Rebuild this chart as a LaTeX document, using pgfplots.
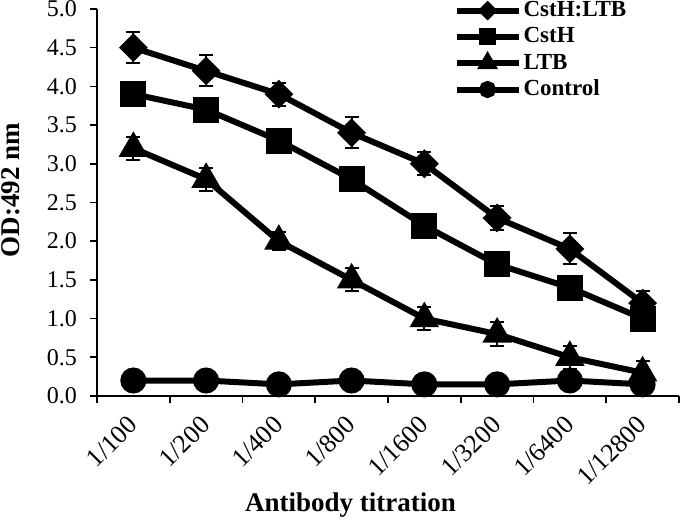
\documentclass[border=0pt]{standalone}
\usepackage{fontspec}
\setmainfont{Liberation Serif}
\usepackage{pgfplots}
\pgfplotsset{compat=1.18}

\begin{document}
\begin{tikzpicture}
  \begin{axis}[
      width=291pt, height=193.5pt, scale only axis,
      xmin=-0.5, xmax=7.5, ymin=0, ymax=5,
      axis lines*=left,
      axis line style={line width=0.8pt},
      tick align=outside,
      major tick length=3.5pt,
      minor tick length=3.5pt,
      tick style={black, line width=0.8pt},
      ytick={0,0.5,...,5},
      xtick={0,...,7},
      xticklabels={1/100,1/200,1/400,1/800,1/1600,1/3200,1/6400,1/12800},
      minor xtick={-0.5,0.5,...,7.5},
      major x tick style={draw=none},
      minor x tick style={black, line width=0.8pt},
      xticklabel style={xshift=-0.2pt, yshift=-8.7pt, rotate=45, anchor=east, inner sep=0pt,
        font=\fontsize{13}{15}\selectfont},
      yticklabel style={xshift=-3pt, font=\fontsize{12}{14}\selectfont},
      /pgf/number format/assume math mode=true,
      yticklabel={\pgfmathprintnumber[fixed,fixed zerofill,precision=1]{\tick}},
      xlabel={Antibody titration},
      ylabel={OD:492 nm},
      label style={font=\bfseries\fontsize{13.5}{16}\selectfont},
      xlabel style={at={(axis description cs:0.4356,0)}, anchor=center, yshift=-54.5pt},
      ylabel style={at={(axis description cs:-0.1477,0.532)}, anchor=center},
      legend style={draw=none, fill=none, at={(0.612,1.0255)}, anchor=north west,
        font=\bfseries\fontsize{11.5}{13}\selectfont, row sep=2pt, inner sep=0pt,
        nodes={inner sep=1pt}},
      legend cell align=left,
      legend image code/.code={\draw[mark repeat=2,mark phase=2,#1,/tikz/every mark/.append style={scale=0.55}]
        plot coordinates {(0pt,0pt) (15.5pt,0pt) (31pt,0pt)};},
      every axis plot/.append style={black, line width=3pt},
      error bars/y dir=both, error bars/y explicit,
      error bars/error bar style={line width=1pt},
      error bars/error mark options={rotate=90, mark size=3.5pt, line width=1pt},
    ]

    % CstH:LTB
    \addplot[mark=square*, mark size=3.6pt, mark options={rotate=45}] coordinates {
      (0, 4.5) +- (0, 0.20)
      (1, 4.2) +- (0, 0.20)
      (2, 3.9) +- (0, 0.15)
      (3, 3.4) +- (0, 0.20)
      (4, 3.0) +- (0, 0.15)
      (5, 2.3) +- (0, 0.15)
      (6, 1.9) +- (0, 0.20)
      (7, 1.2) +- (0, 0.15)
    };
    \addlegendentry{CstH:LTB}

    % CstH
    \addplot[mark=square*, mark size=5pt] coordinates {
      (0, 3.9) +- (0, 0.15)
      (1, 3.7) +- (0, 0.12)
      (2, 3.3) +- (0, 0.12)
      (3, 2.8) +- (0, 0.15)
      (4, 2.2) +- (0, 0.12)
      (5, 1.7) +- (0, 0.12)
      (6, 1.4) +- (0, 0.12)
      (7, 1.0) +- (0, 0.12)
    };
    \addlegendentry{CstH}

    % LTB
    \addplot[mark=triangle*, mark size=5.5pt] coordinates {
      (0, 3.2) +- (0, 0.15)
      (1, 2.8) +- (0, 0.15)
      (2, 2.0) +- (0, 0.12)
      (3, 1.5) +- (0, 0.15)
      (4, 1.0) +- (0, 0.15)
      (5, 0.8) +- (0, 0.15)
      (6, 0.5) +- (0, 0.15)
      (7, 0.3) +- (0, 0.15)
    };
    \addlegendentry{LTB}

    % Control
    \addplot[mark=*, mark size=5pt] coordinates {
      (0, 0.20) +- (0, 0.03)
      (1, 0.20) +- (0, 0.03)
      (2, 0.15) +- (0, 0.03)
      (3, 0.20) +- (0, 0.03)
      (4, 0.15) +- (0, 0.03)
      (5, 0.15) +- (0, 0.03)
      (6, 0.20) +- (0, 0.03)
      (7, 0.15) +- (0, 0.03)
    };
    \addlegendentry{Control}

    % picture frame, as in the reference's margins
    \coordinate (frameBL) at (axis cs:-1.833,-1.602);
    \coordinate (frameTR) at (axis cs:7.514,5.116);
  \end{axis}
  \pgfresetboundingbox
  \useasboundingbox (frameBL) rectangle (frameTR);
\end{tikzpicture}
\end{document}
